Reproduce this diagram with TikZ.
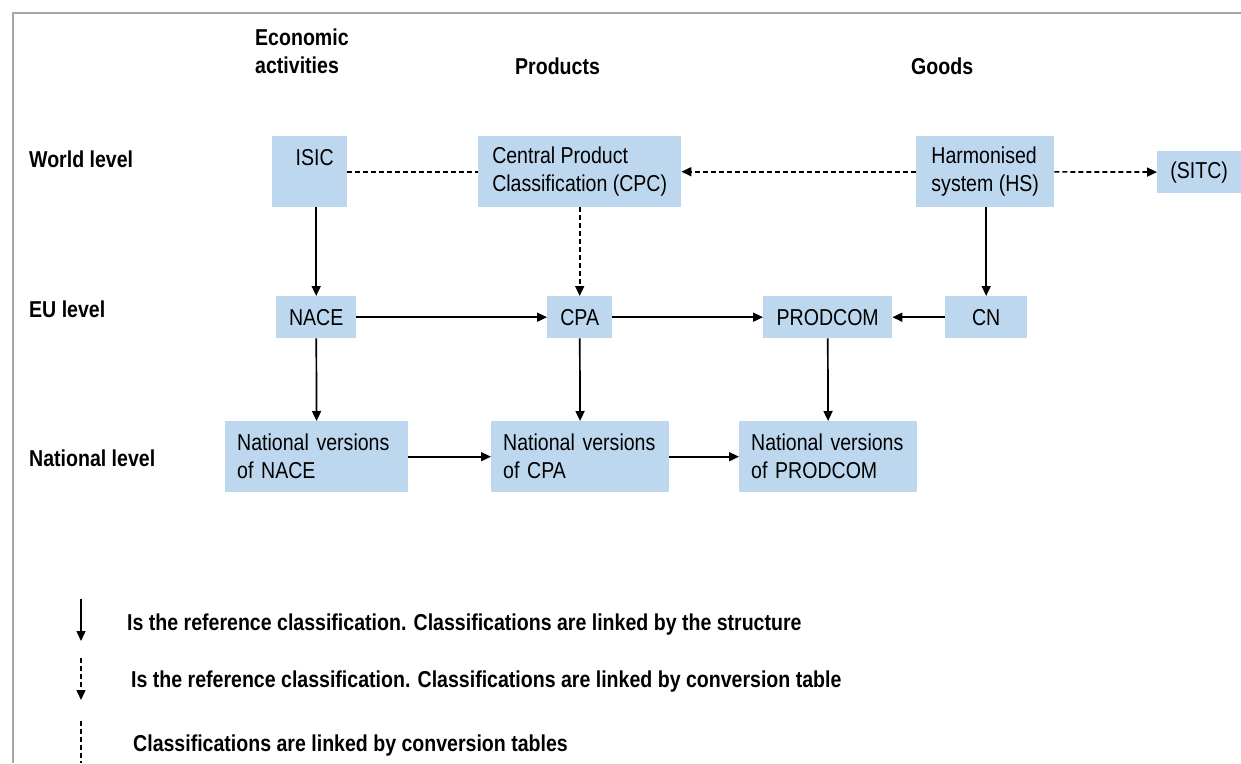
\documentclass[tikz,border=0pt]{standalone}
\usepackage{xcolor}
\usepackage{fontspec}
\setmainfont[FakeStretch=0.85]{Liberation Sans}
\usepackage{tikz}
\usetikzlibrary{arrows.meta,positioning}

\definecolor{boxblue}{HTML}{BDD7EE}
\definecolor{framegray}{HTML}{A6A6A6}

\begin{document}
\begin{tikzpicture}[x=1pt,y=-1pt,
  font=\fontsize{23}{28}\selectfont,
  class node/.style={fill=boxblue,inner sep=0pt,anchor=north west},
  big node/.style={class node,minimum height=71pt,align=left},
  small node/.style={class node,minimum height=42pt},
  nat node/.style={big node,inner xsep=12pt},
  level node/.style={anchor=base west,inner sep=0pt,font=\fontsize{23}{28}\selectfont\bfseries},
  link/.style={line width=1.7pt,-{Triangle[length=10pt,width=9pt]}},
  conv/.style={line width=1.7pt,dash pattern=on 5pt off 3pt},
  conv link/.style={conv,-{Triangle[length=10pt,width=9pt]}}]
  \useasboundingbox (0,0) rectangle (1241,763);
  \draw[framegray,line width=2pt] (1241,13) -- (13,13) -- (13,763);

  % column and row titles
  \node[level node,anchor=north west,align=left] (econ) at (255,29) {Economic\\activities};
  \node[level node] (prod) at (515,74) {Products};
  \node[level node] (goods) at (911,74) {Goods};
  \node[level node] (world) at (29,167) {World level};
  \node[level node] (eu) at (29,317) {EU level};
  \node[level node] (natl) at (29,466) {National level};

  % classifications
  \node[big node,minimum width=75pt] (isic) at (272,136) {\hspace*{10pt}ISIC\\\phantom{I}};
  \node[big node,minimum width=203pt] (cpc) at (478,136) {Central Product\\Classification (CPC)};
  \node[big node,minimum width=138pt] (hs) at (916,136) {Harmonised\\system (HS)};
  \node[small node,minimum width=84pt] (sitc) at (1157,151) {(SITC)};
  \node[small node,minimum width=80pt] (nace) at (276,296) {NACE};
  \node[small node,minimum width=65pt] (cpa) at (547,296) {CPA};
  \node[small node,minimum width=129pt] (prodcom) at (763,296) {PRODCOM};
  \node[small node,minimum width=82pt] (cn) at (945,296) {CN};
  \node[nat node,text width=159pt] (natnace) at (225,421) {National versions\\of NACE};
  \node[nat node,text width=154pt] (natcpa) at (491,421) {National versions\\of CPA};
  \node[nat node,text width=154pt] (natprod) at (739,421) {National versions\\of PRODCOM};

  \path[link]
  (isic.south -| nace.north) edge (nace)
  (hs.south -| cn.north) edge (cn)
  (nace) edge (cpa)
  (cpa) edge (prodcom)
  (cn) edge (prodcom)
  (nace) edge (natnace)
  (cpa) edge (natcpa)
  (prodcom) edge (natprod)
  (natnace) edge (natcpa)
  (natcpa) edge (natprod);

  \path[conv] (isic) edge (cpc);
  \path[conv link]
  (hs) edge (cpc)
  (hs) edge (sitc)
  (cpc) edge (cpa);

  % legend
  \coordinate (sola) at (81,599);
  \coordinate (solb) at (81,641);
  \coordinate (dasha) at (81,658);
  \coordinate (dashb) at (81,700);
  \coordinate (tabla) at (81,721);
  \coordinate (tablb) at (81,763);
  \draw[link,line width=1.4pt] (sola) -- (solb);
  \draw[conv link,line width=1.4pt] (dasha) -- (dashb);
  \draw[conv,line width=1.4pt] (tabla) -- (tablb);
  \node[level node] (leg1) at (127,630) {Is the reference classification. Classifications are linked by the structure};
  \node[level node] (leg2) at (131,687) {Is the reference classification. Classifications are linked by conversion table};
  \node[level node] (leg3) at (133,751) {Classifications are linked by conversion tables};
\end{tikzpicture}
\end{document}
